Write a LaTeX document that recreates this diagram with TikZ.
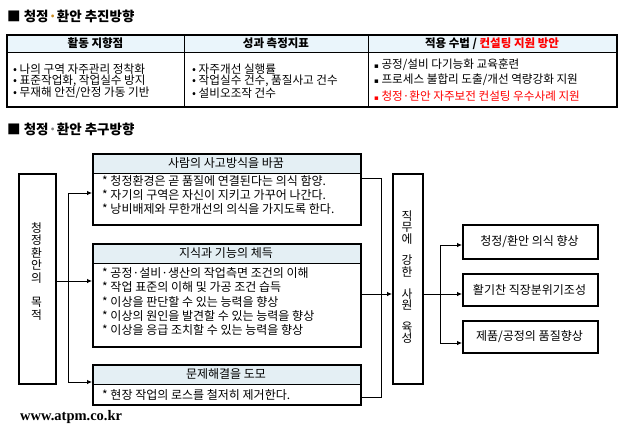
\documentclass[tikz,border=0pt]{standalone}
\usepackage{fontspec}
\setmainfont{Noto Sans CJK KR}
\newfontfamily\dejavu{DejaVu Sans}
\newfontfamily\serifb{Liberation Serif}
\usetikzlibrary{arrows.meta}
\definecolor{hdr}{HTML}{E4EFF4}
\definecolor{thdr}{HTML}{EAF5FB}
\definecolor{kred}{HTML}{FF0000}
\definecolor{dotc}{HTML}{C88A20}
\begin{document}
\begin{tikzpicture}[x=1pt,y=-1pt,
  bx/.style={draw, line width=1.6pt, inner sep=0pt, anchor=north west},
  thin/.style={line width=0.8pt},
  arr/.style={line width=0.8pt, -{Latex[length=5pt,width=4.5pt]}},
  ttl/.style={font=\fontsize{13.5}{15}\selectfont\bfseries, anchor=west, inner sep=0pt},
  thd/.style={font=\fontsize{11.5}{13}\selectfont\bfseries, inner sep=0pt},
  tbody/.style={font=\fontsize{11.6}{13}\selectfont, anchor=west, inner sep=0pt},
  body/.style={font=\fontsize{12}{13}\selectfont, anchor=west, inner sep=0pt},
  bhd/.style={font=\fontsize{12}{13}\selectfont, inner sep=0pt},
  vtxt/.style={font=\fontsize{11.8}{12.4}\selectfont, align=center, inner sep=0pt},
]
\useasboundingbox (0,0) rectangle (627,440);

% ---------- title 1 ----------
\node[ttl] (t1) at (7,16) {■ 청정\textcolor{dotc}{·}환안 추진방향};

% ---------- top table ----------
\fill[thdr] (7,35) rectangle (617,52);
\draw[thin] (7,52) -- (617,52);
\draw[thin] (184,35) -- (184,107);
\draw[thin] (368,35) -- (368,107);
\draw[line width=1.8pt] (7,35) rectangle (617,107);

\node[thd] (h1) at (95.5,43.5) {활동 지향점};
\node[thd] (h2) at (276,43.5) {성과 측정지표};
\node[thd] (h3) at (492,43.5) {적용 수법 / \textcolor{kred}{컨설팅 지원 방안}};

\node[tbody] (c11) at (13,69) {• 나의 구역 자주관리 정착화};
\node[tbody] (c12) at (13,81) {• 표준작업화, 작업실수 방지};
\node[tbody] (c13) at (13,93) {• 무재해 안전/안정 가동 기반};

\node[tbody] (c21) at (192,69) {• 자주개선 실행률};
\node[tbody] (c22) at (192,81) {• 작업실수 건수, 품질사고 건수};
\node[tbody] (c23) at (192,93) {• 설비오조작 건수};

\node[tbody] (c31) at (374,65) {{\dejavu\fontsize{7}{8}\selectfont ▪} 공정/설비 다기능화 교육훈련};
\node[tbody] (c32) at (374,80) {{\dejavu\fontsize{7}{8}\selectfont ▪} 프로세스 불합리 도출/개선 역량강화 지원};
\node[tbody, text=kred] (c33) at (374,96) {{\dejavu\fontsize{7}{8}\selectfont ▪} 청정·환안 자주보전 컨설팅 우수사례 지원};

% ---------- title 2 ----------
\node[ttl] (t2) at (7,129) {■ 청정\textcolor{gray}{·}환안 추구방향};

% ---------- left box ----------
\node[bx, minimum width=37pt, minimum height=210pt] (lb) at (18,173) {};
\node[vtxt] (lbt) at (36.5,271.5) {청\\정\\환\\안\\의\\[12.4pt]목\\적};

% ---------- box 1 ----------
\fill[hdr] (92,153) rectangle (360,173);
\draw[thin] (92,173) -- (360,173);
\node[bx, minimum width=268pt, minimum height=71pt] (b1) at (92,153) {};
\node[bhd] (b1h) at (226,163) {사람의 사고방식을 바꿈};
\node[body] (b1a) at (102,181) {* 청정환경은 곧 품질에 연결된다는 의식 함양.};
\node[body] (b1b) at (102,195) {* 자기의 구역은 자신이 지키고 가꾸어 나간다.};
\node[body] (b1c) at (102,209) {* 낭비배제와 무한개선의 의식을 가지도록 한다.};

% ---------- box 2 ----------
\fill[hdr] (92,243) rectangle (360,263);
\draw[thin] (92,263) -- (360,263);
\node[bx, minimum width=268pt, minimum height=103pt] (b2) at (92,243) {};
\node[bhd] (b2h) at (226,253.5) {지식과 기능의 체득};
\node[body] (b2a) at (102,273) {* 공정·설비·생산의 작업측면 조건의 이해};
\node[body] (b2b) at (102,287) {* 작업 표준의 이해 및 가공 조건 습득};
\node[body] (b2c) at (102,302) {* 이상을 판단할 수 있는 능력을 향상};
\node[body] (b2d) at (102,316) {* 이상의 원인을 발견할 수 있는 능력을 향상};
\node[body] (b2e) at (102,330) {* 이상을 응급 조치할 수 있는 능력을 향상};

% ---------- box 3 ----------
\fill[hdr] (92,364) rectangle (360,384);
\draw[thin] (92,384) -- (360,384);
\node[bx, minimum width=268pt, minimum height=40pt] (b3) at (92,364) {};
\node[bhd] (b3h) at (226,373.5) {문제해결을 도모};
\node[body] (b3a) at (102,394.5) {* 현장 작업의 로스를 철저히 제거한다.};

% ---------- middle box ----------
\node[bx, minimum width=30pt, minimum height=210pt] (mb) at (392,173) {};
\node[vtxt, font=\fontsize{11.8}{11.6}\selectfont] (mbt) at (407,277) {직\\무\\에\\[10pt]강\\한\\[10pt]사\\원\\[10pt]육\\성};

% ---------- right boxes ----------
\node[bx, minimum width=135pt, minimum height=34pt] (r1) at (462,224) {};
\node[bhd] (r1t) at (529.5,241.5) {청정/환안 의식 향상};
\node[bx, minimum width=135pt, minimum height=32pt] (r2) at (462,273) {};
\node[bhd] (r2t) at (529.5,289.5) {활기찬 직장분위기조성};
\node[bx, minimum width=135pt, minimum height=32pt] (r3) at (462,320) {};
\node[bhd] (r3t) at (529.5,336.5) {제품/공정의 품질향상};

% ---------- connectors: left ----------
\coordinate (vt) at (68,193);
\coordinate (vb) at (68,382);
\draw[thin] (vt) -- (vb);
\draw[arr] (vt) -- (vt -| b1.west);
\draw[arr] (vb) -- (vb -| b3.west);
\coordinate (lm) at (55,281);
\draw[arr] (lm) -- (lm -| b2.west);

% ---------- connectors: right ----------
\coordinate (ra) at (360,178);
\coordinate (rb) at (360,397);
\draw[thin] (ra) -- (381,178) -- (381,397) -- (rb);
\coordinate (m2) at (360,294);
\draw[arr] (m2) -- (m2 -| mb.west);
\coordinate (mo) at (422,294);
\draw[arr] (mo) -- (mo -| r2.west);
\coordinate (s1) at (440,245);
\coordinate (s3) at (440,343);
\draw[thin] (s1) -- (s3);
\draw[arr] (s1) -- (s1 -| r1.west);
\draw[arr] (s3) -- (s3 -| r3.west);

% ---------- footer ----------
\node[font=\serifb\fontsize{14.5}{16}\selectfont\bfseries, anchor=west, inner sep=0pt] (www) at (20,417) {www.atpm.co.kr};
\end{tikzpicture}
\end{document}
